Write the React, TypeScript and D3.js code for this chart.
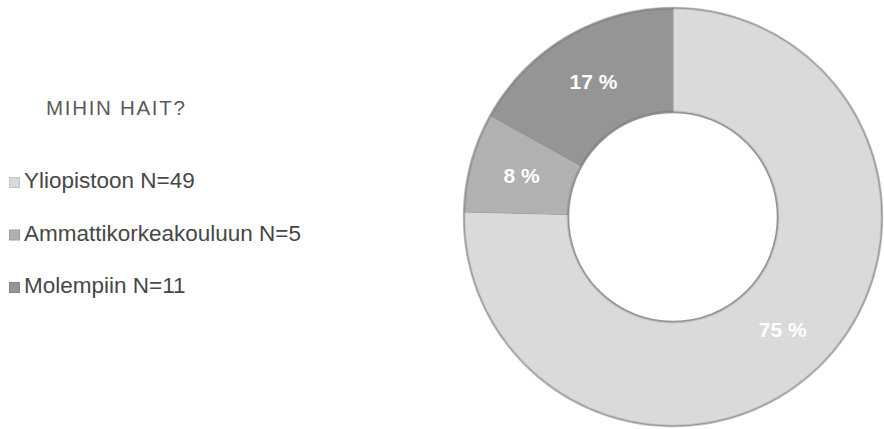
import React from "react";
import * as d3 from "d3";

const categories = ["Yliopistoon N=49", "Ammattikorkeakouluun N=5", "Molempiin N=11"];
const values = [49, 5, 11];
const labels = ["75 %", "8 %", "17 %"];
const fills = ["#dadada", "#b1b1b1", "#959595"];
const strokes = ["#c4c4c4", "#9c9c9c", "#858585"];
const title = "MIHIN HAIT?";

export default function App() {
  const W = 884, H = 429;
  const cx = 673, cy = 217, R = 209, r = 105;
  const pie = d3.pie<number>().sort(null).startAngle(0).endAngle(2 * Math.PI);
  const arcs = pie(values);
  const arc = d3.arc<d3.PieArcDatum<number>>().innerRadius(r).outerRadius(R);
  const inset = d3.arc<d3.PieArcDatum<number>>().innerRadius(r + 1.5).outerRadius(R - 1.5);
  const legendY = d3.scalePoint<string>().domain(categories).range([188, 293]);
  return (
    <svg width={W} height={H} style={{ position: "absolute", left: 0, top: 0, background: "#fff" }}
      fontFamily="'Liberation Sans', Arial, Helvetica, sans-serif">
      <text x={46} y={115} fontSize={20.5} fill="#5a5a5a" letterSpacing={1.7}>{title}</text>
      {categories.map((c, i) => (
        <g key={c} transform={`translate(0,${legendY(c)})`}>
          <rect x={9.5} y={-10.5} width={10} height={10} fill={fills[i]} stroke={strokes[i]} strokeWidth={1} />
          <text x={24} y={0} fontSize={22.5} fill="#474747">{c}</text>
        </g>
      ))}
      <g transform={`translate(${cx},${cy})`}>
        <circle r={R + 0.5} fill="none" stroke="#bdbdbd" strokeWidth={1.5} />
        <circle r={r - 0.5} fill="none" stroke="#9a9a9a" strokeWidth={1.5} />
        {arcs.map((a, i) => (
          <g key={i}>
            <path d={arc(a) || ""} fill={strokes[i]} stroke="#8a8a8a" strokeWidth={0.8} />
            <path d={inset(a) || ""} fill={fills[i]} />
          </g>
        ))}
        {arcs.map((a, i) => {
          const [x, y] = arc.centroid(a);
          return (
            <text key={"l" + i} x={x} y={y} dy="0.35em" textAnchor="middle"
              fontSize={21} fontWeight="bold" fill="#fff">{labels[i]}</text>
          );
        })}
      </g>
    </svg>
  );
}
